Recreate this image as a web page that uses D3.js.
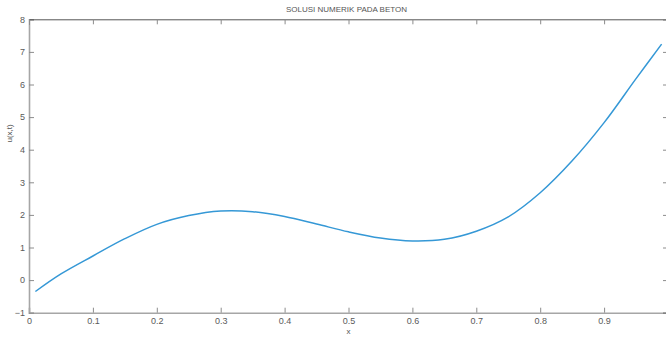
<!DOCTYPE html>
<html>
<head>
<meta charset="utf-8">
<script src="https://cdn.jsdelivr.net/npm/d3@7"></script>
<style>
  body { margin: 0; background: #fff; }
  svg { display: block; font-family: "Liberation Sans", Arial, sans-serif; }
</style>
</head>
<body>
<div id="container"></div>
<script>
// values
const xs = [0.01, 0.05, 0.1, 0.15, 0.2, 0.25, 0.3, 0.35, 0.4, 0.45, 0.5, 0.55,
            0.6, 0.65, 0.7, 0.75, 0.8, 0.85, 0.9, 0.95, 0.99];
const us = [-0.35, 0.19, 0.74, 1.27, 1.71, 1.98, 2.12, 2.1, 1.95, 1.72, 1.48, 1.29,
            1.2, 1.25, 1.5, 1.94, 2.68, 3.66, 4.83, 6.18, 7.24];
const xTicks = [0, 0.1, 0.2, 0.3, 0.4, 0.5, 0.6, 0.7, 0.8, 0.9];
const yTicks = [-1, 0, 1, 2, 3, 4, 5, 6, 7, 8];
const title = "SOLUSI NUMERIK PADA BETON";

const w = 666, h = 338;
const padL = 29, padR = 668, padT = 19.3, padB = 312.7;

const svg = d3.select("#container")
              .append("svg")
              .attr("width", w)
              .attr("height", h);

//SCALES
const xScale = d3.scaleLinear().domain([0, 1]).range([padL, padR]);
const yScale = d3.scaleLinear().domain([-1, 8]).range([padB, padT]);

//AXES (ticks pointing inward, mirrored on top/right)
const tickLen = 5;
const xAxis = d3.axisBottom(xScale).tickValues(xTicks).tickSize(-tickLen)
                .tickPadding(5).tickFormat(d => d3.format("")(d));
const gx = svg.append("g")
   .attr("transform", `translate(0, ${padB})`)
   .call(xAxis);

const yAxis = d3.axisLeft(yScale).tickValues(yTicks).tickSize(-tickLen)
                .tickPadding(4).tickFormat(d3.format("d"));
const gy = svg.append("g")
   .attr("transform", `translate(${padL}, 0)`)
   .call(yAxis);

const xTop = d3.axisTop(xScale).tickValues(xTicks).tickSize(-tickLen).tickFormat("");
const gt = svg.append("g").attr("transform", `translate(0, ${padT})`).call(xTop);
const yRight = d3.axisRight(yScale).tickValues(yTicks).tickSize(-tickLen).tickFormat("");
const gr = svg.append("g").attr("transform", `translate(${padR}, 0)`).call(yRight);

[gx, gy].forEach(g => {
  g.select(".domain").attr("stroke", "#a6a6a6").attr("stroke-width", 1.6);
  g.selectAll(".tick line").attr("stroke", "#8c8c8c");
  g.selectAll(".tick text").attr("fill", "#5a5a5a").style("font-size", "9px");
});
[gt, gr].forEach(g => {
  g.select(".domain").attr("stroke", "#555").attr("stroke-width", 1);
  g.selectAll(".tick line").attr("stroke", "#8c8c8c");
});

//THE CURVE
const pts = xs.map((x, i) => [x, us[i]]);
const line = d3.line()
               .x(d => xScale(d[0]))
               .y(d => yScale(d[1]))
               .curve(d3.curveCatmullRom.alpha(0.5));
svg.append("path")
   .datum(pts)
   .attr("d", line)
   .attr("fill", "none")
   .attr("stroke", "#3598d6")
   .attr("stroke-width", 1.5);

//TEXTS
svg.append("text")
   .text(title)
   .attr("x", (padL + 664) / 2)
   .attr("y", 12)
   .attr("text-anchor", "middle")
   .attr("fill", "#555")
   .style("font-size", "8px");

svg.append("text")
   .text("x")
   .attr("x", xScale(0.5))
   .attr("y", 334)
   .attr("text-anchor", "middle")
   .attr("fill", "#555")
   .style("font-size", "8px");

svg.append("text")
   .text("u(x,t)")
   .attr("transform", `translate(12, ${yScale(4.5)}) rotate(-90)`)
   .attr("text-anchor", "middle")
   .attr("fill", "#555")
   .style("font-size", "8px");
</script>
</body>
</html>
